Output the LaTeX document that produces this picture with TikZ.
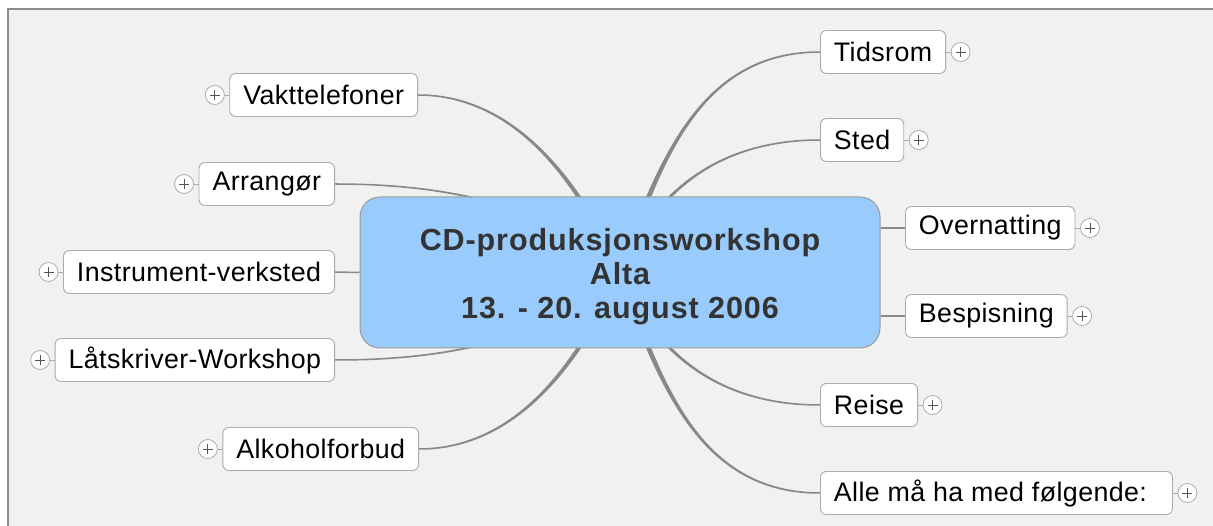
\documentclass[tikz,border=0pt]{standalone}
\usepackage{fontspec}
\setmainfont{Liberation Sans}
\newfontfamily\childfont[LetterSpace=1.5]{Liberation Sans}
\newfontfamily\titlefont[LetterSpace=3]{Liberation Sans}
\usetikzlibrary{calc,backgrounds}
\definecolor{panelbg}{HTML}{F1F1F1}
\definecolor{framecol}{HTML}{8C8C8C}
\definecolor{linkcol}{HTML}{888888}
\definecolor{centerfill}{HTML}{99CBFC}
\definecolor{centerdraw}{HTML}{9A9A9A}
\definecolor{boxdraw}{HTML}{ABABAB}
\definecolor{titletext}{HTML}{333333}
\definecolor{plusdraw}{HTML}{555555}

% tapered mind-map link: #1 start, #2 offset of 1st control from start,
% #3 offset of 2nd control from end, #4 end, #5 half width at start
\newcommand\mmlink[5]{%
  \path (#1) coordinate (s0) ($(s0)+(#2)$) coordinate (s1)
        (#4) coordinate (s3) ($(s3)+(#3)$) coordinate (s2);
  \pgfmathsetmacro\wa{#5}\pgfmathsetmacro\wb{0.75*#5}\pgfmathsetmacro\wc{0.35*#5+0.25}%
  \fill[linkcol] ($(s0)!\wa pt!90:(s1)$) .. controls ($(s1)!\wb pt!-90:(s0)$) and ($(s2)!\wc pt!90:(s3)$) .. ($(s3)!0.75pt!-90:(s2)$)
     -- ($(s3)!0.75pt!90:(s2)$) .. controls ($(s2)!\wc pt!-90:(s3)$) and ($(s1)!\wb pt!90:(s0)$) .. ($(s0)!\wa pt!-90:(s1)$) -- cycle;}

% expander circle with plus: #1 node, #2 anchor, #3 x offset
\newcommand\expander[3]{%
  \node[expcirc] (#1x) at ($(#1.#2)+(#3,0)$) {};
  \draw[expline] (#1.#2) -- (#1x);
  \draw[plusline] ($(#1x)+(-5,0)$) -- ($(#1x)+(5,0)$) ($(#1x)+(0,-5)$) -- ($(#1x)+(0,5)$);}

\tikzset{
  child/.style={draw=boxdraw, fill=white, rounded corners=6pt, minimum height=43pt,
    inner xsep=13.5pt, inner ysep=0pt, font=\childfont\fontsize{26.8}{32}\selectfont, line width=0.9pt},
  centralbox/.style={draw=centerdraw, fill=centerfill, rounded corners=20pt,
    minimum width=520pt, minimum height=151pt, align=center, text=titletext,
    font=\titlefont\fontsize{30.5}{34}\selectfont\bfseries, line width=1pt},
  expcirc/.style={circle, draw=boxdraw, fill=white, minimum size=19pt, inner sep=0pt, line width=0.8pt},
  expline/.style={draw=boxdraw, line width=0.8pt},
  plusline/.style={draw=plusdraw, line width=0.9pt},
  straightlink/.style={draw=linkcol, line width=1.5pt}
}

\begin{document}
\begin{tikzpicture}[x=1pt,y=-1pt]
\useasboundingbox (0,0) rectangle (1213,526);

% central topic
\node[centralbox] (c) at (620,272.5) {\rule{0pt}{31pt}CD-produksjonsworkshop\\Alta\\13. - 20. august 2006};

% right side
\node[child, anchor=west] (tid) at (820,52) {Tidsrom};
\node[child, anchor=west] (sted) at (820,140) {Sted};
\node[child, anchor=west] (over) at (905,228) {Overnatting};
\node[child, anchor=west] (besp) at (905,316) {Bespisning};
\node[child, anchor=west] (reise) at (820,405) {Reise};
\node[child, anchor=west] (alle) at (820,493) {Alle må ha med følgende:\kern12pt};

% left side
\node[child, anchor=east] (vakt) at (418,95) {Vakttelefoner};
\node[child, anchor=east] (arr) at (335,184) {Arrangør};
\node[child, anchor=east] (instr) at (335,272) {Instrument-verksted};
\node[child, anchor=east] (lat) at (335,360) {Låtskriver-Workshop};
\node[child, anchor=east] (alko) at (419,449) {Alkoholforbud};

% expanders
\expander{tid}{east}{14.5}
\expander{sted}{east}{14.5}
\expander{over}{east}{14.5}
\expander{besp}{east}{14.5}
\expander{reise}{east}{14.5}
\expander{alle}{east}{14.5}
\expander{vakt}{west}{-14.5}
\expander{arr}{west}{-14.5}
\expander{instr}{west}{-14.5}
\expander{lat}{west}{-14.5}
\expander{alko}{west}{-14.5}

\begin{scope}[on background layer]
  \fill[white] (0,0) rectangle (1213,526);
  \fill[panelbg] (8,9) rectangle (1213,526);
  \draw[framecol, line width=1.3pt] (8,526) -- (8,9) -- (1213,9);

  \mmlink{c.center}{40,-112}{-120,0}{tid.west}{3.0}
  \mmlink{c.center}{40,-92}{-90,0}{sted.west}{2.2}
  \mmlink{c.center}{40,92}{-90,0}{reise.west}{2.2}
  \mmlink{c.center}{40,112}{-120,0}{alle.west}{3.0}
  \mmlink{c.center}{-45,-100}{92,0}{vakt.east}{2.8}
  \mmlink{c.center}{-80,-82}{65,0}{arr.east}{1.6}
  \mmlink{c.center}{-80,82}{65,0}{lat.east}{1.6}
  \mmlink{c.center}{-45,100}{92,0}{alko.east}{2.8}

  \draw[straightlink] (c.west) -- (instr.east);
  \draw[straightlink] (c.east |- over.west) -- (over.west);
  \draw[straightlink] (c.east |- besp.west) -- (besp.west);
\end{scope}
\end{tikzpicture}
\end{document}
